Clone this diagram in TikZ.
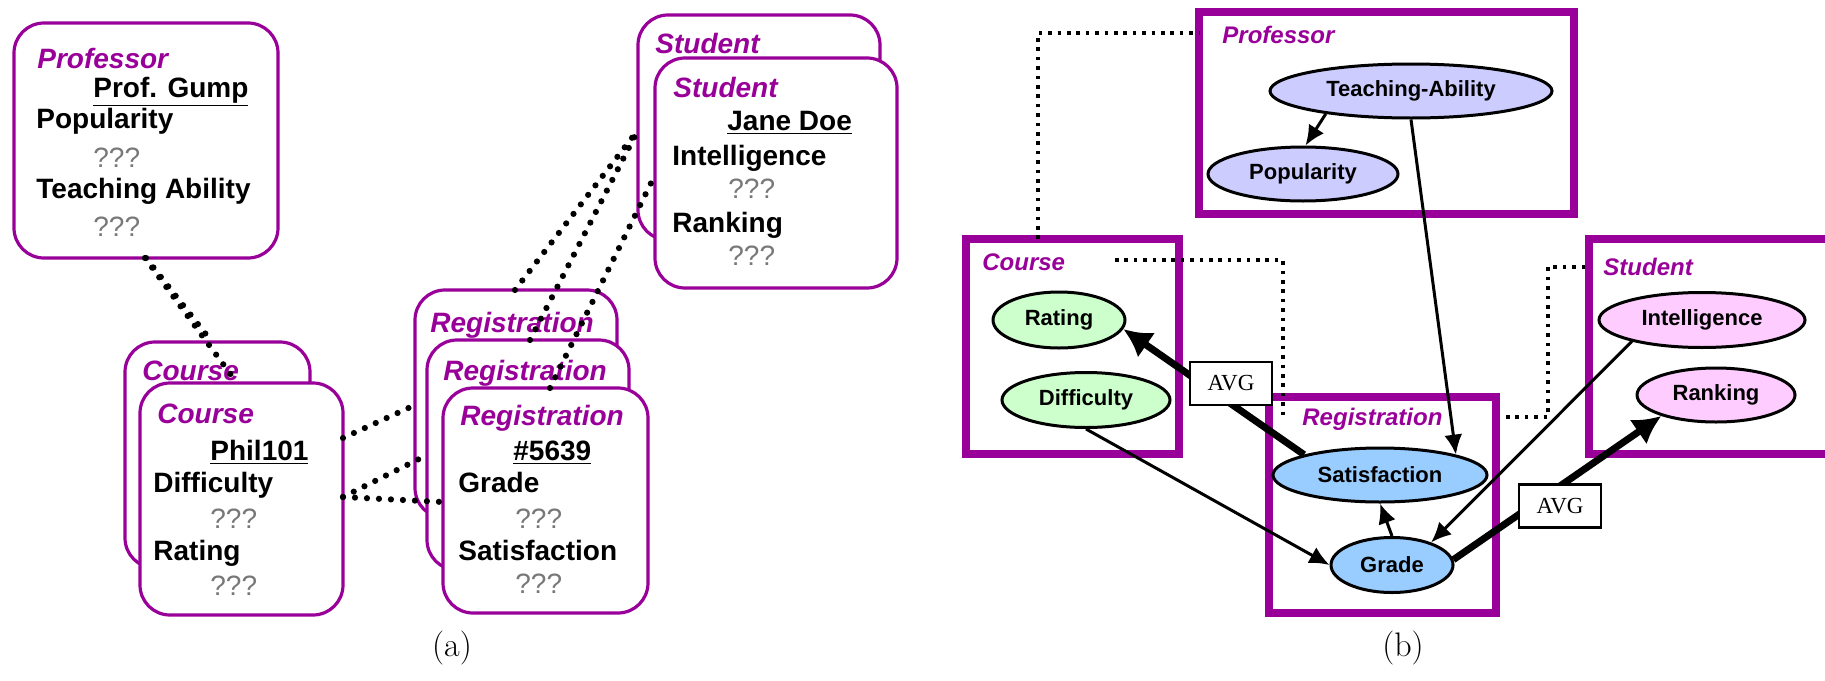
\documentclass[tikz,border=0pt]{standalone}
\usepackage{fontspec}
\setsansfont{Liberation Sans}
\newfontfamily\avgfont{Liberation Serif}
\usetikzlibrary{arrows.meta,shapes.geometric}

\definecolor{prmpurple}{RGB}{153,0,153}
\definecolor{profFill}{RGB}{204,204,255}
\definecolor{courseFill}{RGB}{204,255,204}
\definecolor{regFill}{RGB}{153,204,255}
\definecolor{studFill}{RGB}{255,204,255}
\definecolor{unknownGray}{RGB}{120,120,120}

\tikzset{
  % (a) object skeleton
  objbox/.style={rectangle, draw=prmpurple, line width=1.6pt, fill=white,
    rounded corners=15pt, inner sep=0pt, outer sep=0pt},
  cls/.style={font=\sffamily\bfseries\itshape\fontsize{14}{16}\selectfont,
    text=prmpurple, anchor=base west, inner sep=0pt},
  attr/.style={font=\sffamily\bfseries\fontsize{14}{16}\selectfont,
    anchor=base west, inner sep=0pt},
  unk/.style={font=\sffamily\fontsize{14}{16}\selectfont,
    text=unknownGray, anchor=base west, inner sep=0pt},
  link/.style={line width=3.1pt, line cap=round, dash pattern=on 0pt off 6pt},
  % (b) dependency structure
  classbox/.style={rectangle, draw=prmpurple, line width=4pt,
    inner sep=0pt, outer sep=0pt},
  rcls/.style={font=\sffamily\bfseries\itshape\fontsize{12}{14}\selectfont,
    text=prmpurple, anchor=base west, inner sep=0pt},
  var/.style={ellipse, draw=black, line width=1.5pt, inner sep=0pt,
    font=\sffamily\bfseries\fontsize{11}{13}\selectfont},
  avgbox/.style={rectangle, draw=black, line width=1.4pt, fill=white,
    inner sep=0pt, minimum width=41pt, minimum height=21.5pt,
    font=\avgfont\fontsize{11.5}{13}\selectfont},
  slot/.style={line width=1.8pt, dash pattern=on 1.8pt off 2.9pt},
  dep/.style={-{Latex[length=10pt,width=9pt]}, line width=1.5pt},
  agg/.style={-{Latex[length=14pt,width=15pt]}, line width=3.5pt},
  caption/.style={font=\fontsize{17}{20}\selectfont, inner sep=0pt}
}

\begin{document}
\begin{tikzpicture}[x=0.5pt,y=-0.5pt]
\useasboundingbox (0,0) rectangle (1825,680);

% ---------------- (a) ----------------
\node[objbox, minimum width=132pt, minimum height=117.5pt] (prof) at (146,140.5) {};
\node[cls]  (profC) at (37,68)  {Professor};
\node[attr] (profK) at (93,97)  {\underline{Prof. Gump}};
\node[attr] (profA1) at (36,128) {Popularity};
\node[unk]  (profV1) at (93,167) {???};
\node[attr] (profA2) at (36,198) {Teaching Ability};
\node[unk]  (profV2) at (93,236) {???};

\node[objbox, minimum width=92.5pt, minimum height=113pt] (courseB) at (217.5,455) {};
\node[cls] (courseBC) at (142,380) {Course};
\node[objbox, minimum width=101.5pt, minimum height=116pt] (courseF) at (241.5,499) {};
\node[cls]  (courseC) at (157,423) {Course};
\node[attr] (courseK) at (210,460) {\underline{Phil101}};
\node[attr] (courseA1) at (153,492) {Difficulty};
\node[unk]  (courseV1) at (210,528) {???};
\node[attr] (courseA2) at (153,560) {Rating};
\node[unk]  (courseV2) at (210,595) {???};

\node[objbox, minimum width=101pt, minimum height=114pt] (reg1) at (516,404) {};
\node[cls] (reg1C) at (430,332) {Registration};
\node[objbox, minimum width=101pt, minimum height=115pt] (reg2) at (528,455) {};
\node[cls] (reg2C) at (443,380) {Registration};
\node[objbox, minimum width=102.5pt, minimum height=112.5pt] (reg3) at (545.5,500.5) {};
\node[cls]  (reg3C) at (460,425) {Registration};
\node[attr] (regK) at (513,460) {\underline{\#5639}};
\node[attr] (regA1) at (458,492) {Grade};
\node[unk]  (regV1) at (515,528) {???};
\node[attr] (regA2) at (458,560) {Satisfaction};
\node[unk]  (regV2) at (515,593) {???};

\node[objbox, minimum width=121pt, minimum height=112.5pt] (studB) at (759,127.5) {};
\node[cls] (studBC) at (655,53) {Student};
\node[objbox, minimum width=121pt, minimum height=115pt] (studF) at (776,173) {};
\node[cls]  (studC) at (673,97) {Student};
\node[attr] (studK) at (727,130) {\underline{Jane Doe}};
\node[attr] (studA1) at (672,165) {Intelligence};
\node[unk]  (studV1) at (728,198) {???};
\node[attr] (studA2) at (672,232) {Ranking};
\node[unk]  (studV2) at (728,265) {???};

% reference slots between objects
\draw[link] ([xshift=65.5pt]prof.south west) -- ([xshift=48.5pt]courseF.north west);
\draw[link] ([xshift=66pt]prof.south west) -- ([xshift=43.5pt]courseB.north west);
\draw[link] ([yshift=-27.5pt]courseF.north east) -- ([yshift=-57.5pt]reg1.north west);
\draw[link] ([yshift=-57pt]courseF.north east) -- ([yshift=-57.5pt]reg2.north west);
\draw[link] ([yshift=-57pt]courseF.north east) -- ([yshift=-57pt]reg3.north west);
\draw[link] ([xshift=50pt]reg1.north west) -- ([yshift=-57.5pt]studB.north west);
\draw[link] ([xshift=51.5pt]reg2.north west) -- ([yshift=-57.5pt]studB.north west);
\draw[link] ([xshift=53.5pt]reg3.north west) -- ([yshift=-58.5pt]studF.north west);

\node[caption] (capA) at (452,648) {(a)};

% ---------------- (b) ----------------
\node[classbox, minimum width=187.5pt, minimum height=101pt] (profR) at (1386.5,113) {};
\node[classbox, minimum width=106.5pt, minimum height=107.5pt] (courseR) at (1072.5,346.5) {};
\node[classbox, minimum width=113.5pt, minimum height=108pt] (regR) at (1382.5,505) {};
\node[classbox, minimum width=125.5pt, minimum height=107.5pt] (studR) at (1714.5,346.5) {};

\node[rcls] (profRC) at (1222,43) {Professor};
\node[rcls] (courseRC) at (982,270) {Course};
\node[rcls] (regRC) at (1302,425) {Registration};
\node[rcls] (studRC) at (1603,275) {Student};

% slot chains linking the classes
\draw[slot] ([xshift=36pt]courseR.north west) |- ([yshift=-10.5pt]profR.north west);
\draw[slot] ([xshift=74.5pt,yshift=-10.5pt]courseR.north west) -| ([xshift=7pt,yshift=-10pt]regR.north west);
\draw[slot] ([xshift=5pt,yshift=-10pt]regR.north east) -- ++(21pt,0)
  |- ([yshift=-14pt]studR.north west);

% attributes
\node[var, fill=profFill, minimum width=141pt, minimum height=27pt] (ta) at (1411,91) {Teaching-Ability};
\node[var, fill=profFill, minimum width=95pt, minimum height=27pt] (pop) at (1303,174) {Popularity};
\node[var, fill=courseFill, minimum width=66pt, minimum height=28pt] (rating) at (1059,320) {Rating};
\node[var, fill=courseFill, minimum width=84pt, minimum height=27.5pt] (diff) at (1086,400) {Difficulty};
\node[var, fill=regFill, minimum width=107pt, minimum height=27pt] (sat) at (1380,475) {Satisfaction};
\node[var, fill=regFill, minimum width=61pt, minimum height=27.5pt] (grade) at (1392,565) {Grade};
\node[var, fill=studFill, minimum width=103pt, minimum height=27.5pt] (intel) at (1702,320) {Intelligence};
\node[var, fill=studFill, minimum width=79pt, minimum height=27pt] (rank) at (1716,395) {Ranking};

% probabilistic dependencies
\draw[dep] (ta.195) -- (pop.85);
\draw[dep] (ta.south) -- (sat.15);
\draw[dep] (grade.north) -- (sat.south);
\draw[dep] (diff.south) -- (grade.west);
\draw[dep] (intel.197) -- (grade.30);

% aggregated dependencies
\draw[agg] (sat.165) -- (rating.-8);
\draw[agg] (grade.5) -- (rank.201);
\node[avgbox] (avg1) at (1231,383.5) {AVG};
\node[avgbox] (avg2) at (1560,506) {AVG};

\node[caption] (capB) at (1403,648) {(b)};
\end{tikzpicture}
\end{document}
